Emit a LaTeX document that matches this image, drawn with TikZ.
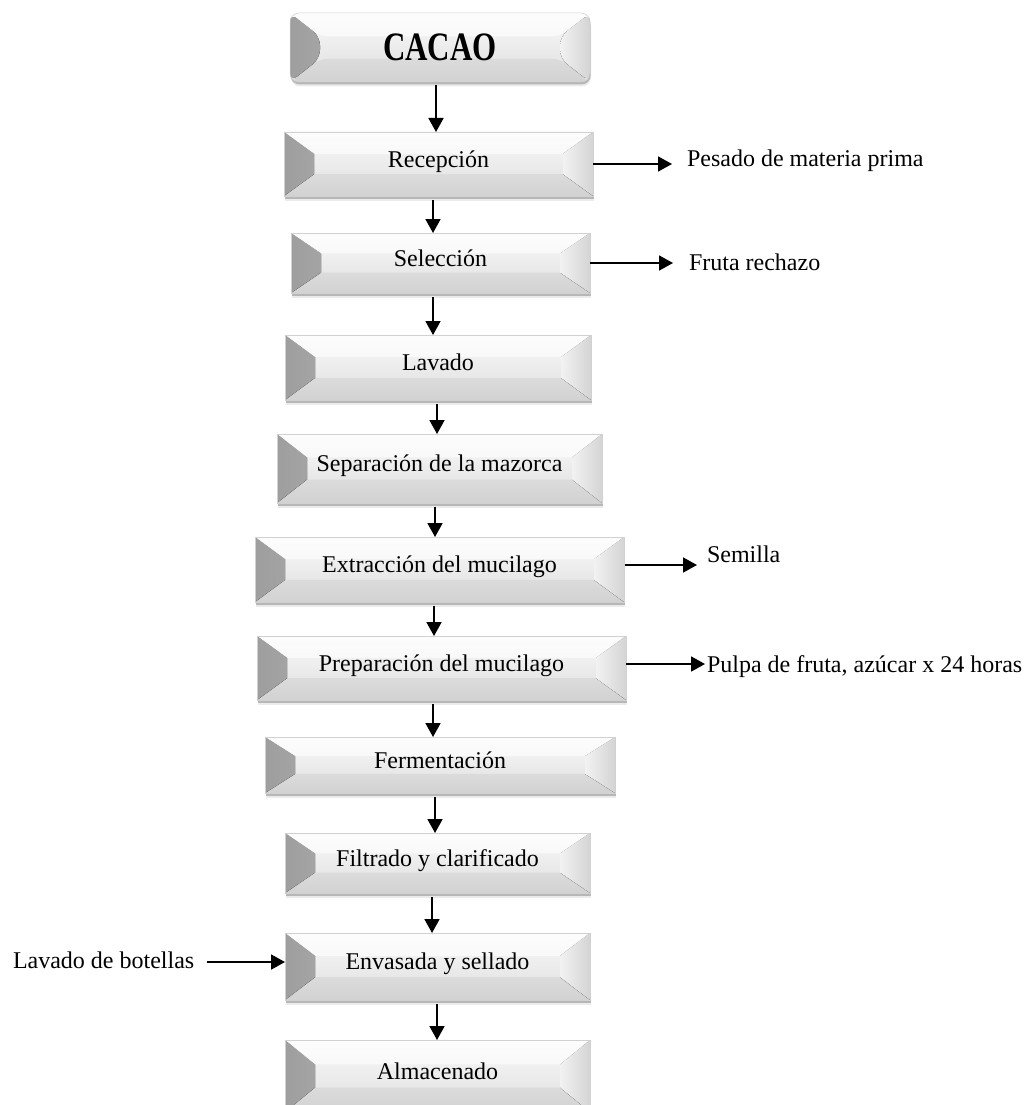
\documentclass[tikz,border=0pt]{standalone}
\usepackage{fontspec}
\setmainfont{Liberation Serif}
\usepackage{graphicx}
\usetikzlibrary{arrows.meta,calc,shadows}

\newcommand\boxfont{\fontsize{24}{28}\selectfont}

\tikzset{
  % bevelled, softly shaded process box
  bevelshape/.style={
    rectangle, inner sep=0pt, outer sep=0pt,
    draw=black!18, line width=0.5pt,
    top color=black!2, bottom color=black!13,
    drop shadow={shadow xshift=0.6pt, shadow yshift=-2.5pt, opacity=0.22, fill=black},
    drop shadow={shadow xshift=1pt, shadow yshift=-4.5pt, opacity=0.08, fill=black},
    path picture={
      % left facet (dark)
      \fill[left color=black!38, right color=black!14]
        (path picture bounding box.north west)
        -- ($(path picture bounding box.north west)!0.34!(path picture bounding box.south west)+(30,0)$)
        -- ($(path picture bounding box.north west)!0.66!(path picture bounding box.south west)+(30,0)$)
        -- (path picture bounding box.south west) -- cycle;
      % right facet (light)
      \fill[left color=black!5, right color=black!17]
        (path picture bounding box.north east)
        -- ($(path picture bounding box.north east)!0.34!(path picture bounding box.south east)+(-30,0)$)
        -- ($(path picture bounding box.north east)!0.66!(path picture bounding box.south east)+(-30,0)$)
        -- (path picture bounding box.south east) -- cycle;
      % top facet (highlight)
      \fill[white, opacity=0.6]
        (path picture bounding box.north west)
        -- (path picture bounding box.north east)
        -- ($(path picture bounding box.north east)!0.34!(path picture bounding box.south east)+(-30,0)$)
        -- ($(path picture bounding box.north west)!0.34!(path picture bounding box.south west)+(30,0)$)
        -- cycle;
      % bottom facet (slightly darker)
      \fill[black, opacity=0.05]
        (path picture bounding box.south west)
        -- (path picture bounding box.south east)
        -- ($(path picture bounding box.north east)!0.66!(path picture bounding box.south east)+(-30,0)$)
        -- ($(path picture bounding box.north west)!0.66!(path picture bounding box.south west)+(30,0)$)
        -- cycle;
    }
  },
  stepbox/.style={bevelshape, font=\boxfont, text height=18pt, text depth=12pt},
  note/.style={inner sep=0pt, outer sep=0pt, font=\boxfont, anchor=base west},
  flow/.style={line width=1.8pt, -{Triangle[length=14pt,width=15pt]}}
}

\begin{document}
\begin{tikzpicture}[x=1pt, y=-1pt]
  \useasboundingbox (0,0) rectangle (1026,1105);
  \fill[white] (0,0) rectangle (1026,1105);

  % process steps
  \node[bevelshape, rounded corners=9pt, minimum width=300pt, minimum height=69pt]
    (cacao) at (440,47.5) {\scalebox{1}[1.3]{\fontsize{31}{36}\selectfont\bfseries CACAO}};
  \node[stepbox, minimum width=309pt, minimum height=64pt] (recepcion) at (438.5,164) {Recepción};
  \node[stepbox, minimum width=299pt, minimum height=60pt] (seleccion) at (440.5,263) {Selección};
  \node[stepbox, minimum width=306pt, minimum height=65pt] (lavado) at (438,367.5) {Lavado};
  \node[stepbox, minimum width=325pt, minimum height=69pt] (separacion) at (439.5,468.5) {Separación de la mazorca};
  \node[stepbox, minimum width=369pt, minimum height=65pt] (extraccion) at (439.5,569.5) {Extracción del mucilago};
  \node[stepbox, minimum width=369pt, minimum height=64pt] (preparacion) at (441.5,668) {Preparación del mucilago};
  \node[stepbox, minimum width=350pt, minimum height=56pt] (fermentacion) at (440,765) {Fermentación};
  \node[stepbox, minimum width=305pt, minimum height=60pt] (filtrado) at (437.5,863) {Filtrado y clarificado};
  \node[stepbox, minimum width=305pt, minimum height=67pt] (envasada) at (437.5,966.5) {Envasada y sellado};
  \node[stepbox, minimum width=305pt, minimum height=72pt] (almacenado) at (437.5,1076) {Almacenado};

  % side notes
  \node[note] (pesado) at (687,166) {Pesado de materia prima};
  \node[note] (rechazo) at (689,270) {Fruta rechazo};
  \node[note] (semilla) at (707,562) {Semilla};
  \node[note] (pulpa) at (707,672) {Pulpa de fruta, azúcar x 24 horas};
  \node[note] (botellas) at (13,968) {Lavado de botellas};

  % main flow
  \draw[flow] ([xshift=-4pt,yshift=-3pt]cacao.south) -- ([xshift=-2.5pt]recepcion.north);
  \draw[flow] ([xshift=-5.5pt,yshift=-4pt]recepcion.south) -- ([xshift=-7.5pt]seleccion.north);
  \draw[flow] ([xshift=-7.5pt,yshift=-4pt]seleccion.south) -- ([xshift=-5pt]lavado.north);
  \draw[flow] ([xshift=-1pt,yshift=-4pt]lavado.south) -- ([xshift=-2.5pt]separacion.north);
  \draw[flow] ([xshift=-4.5pt,yshift=-4pt]separacion.south) -- ([xshift=-4.5pt]extraccion.north);
  \draw[flow] ([xshift=-5.5pt,yshift=-4pt]extraccion.south) -- ([xshift=-7.5pt]preparacion.north);
  \draw[flow] ([xshift=-8.5pt,yshift=-4pt]preparacion.south) -- ([xshift=-7pt]fermentacion.north);
  \draw[flow] ([xshift=-5pt,yshift=-4pt]fermentacion.south) -- ([xshift=-2.5pt]filtrado.north);
  \draw[flow] ([xshift=-5.5pt,yshift=-4pt]filtrado.south) -- ([xshift=-5.5pt]envasada.north);
  \draw[flow] ([xshift=-0.5pt,yshift=-4pt]envasada.south) -- ([xshift=-0.5pt]almacenado.north);

  % side flows
  \draw[flow, shorten >=15pt] (recepcion.east) -- (recepcion.east -| pesado.west);
  \draw[flow, shorten >=16pt] (seleccion.east) -- (seleccion.east -| rechazo.west);
  \draw[flow, shorten >=10pt] ($(extraccion.east)+(1,-4.5)$) -- ($(extraccion.east -| semilla.west)+(0,-4.5)$);
  \draw[flow, shorten >=2pt] ($(preparacion.east)+(0,-4)$) -- ($(preparacion.east -| pulpa.west)+(0,-4)$);
  \draw[flow, shorten <=13pt] ($(botellas.east |- envasada.west)+(0,-4.5)$) -- ($(envasada.west)+(0,-4.5)$);
\end{tikzpicture}
\end{document}
